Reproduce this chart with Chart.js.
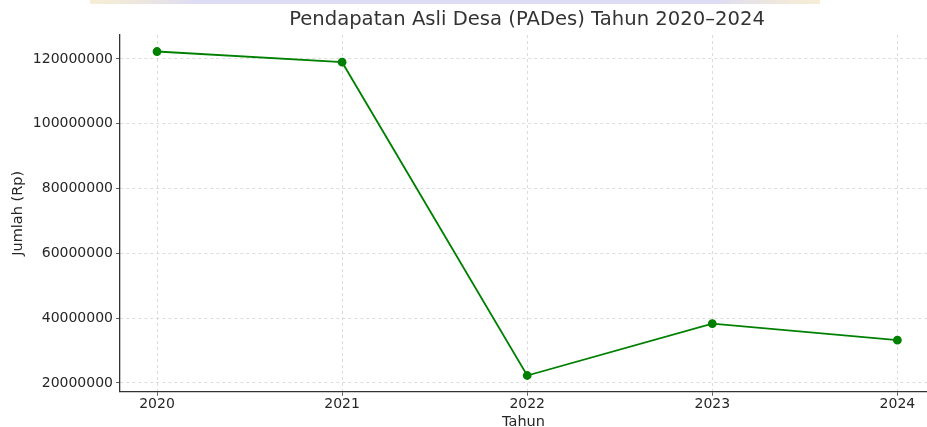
<!DOCTYPE html>
<html lang="id">
<head>
    <meta charset="UTF-8">
    <title>Pendapatan Asli Desa (PADes) Tahun 2020–2024</title>
    <style>
        html, body {
            margin: 0;
            padding: 0;
            background-color: #ffffff;
            overflow: hidden;
        }
        .chart-container {
            position: relative;
            width: 927px;
            height: 427px;
        }
    </style>
</head>
<body>
    <div class="chart-container">
        <canvas id="padesChart"></canvas>
    </div>

    <script src="https://cdn.jsdelivr.net/npm/chart.js"></script>
    <script>
        // Data
        const years = [2020, 2021, 2022, 2023, 2024];
        const pades = [122300000, 119000000, 22300000, 38300000, 33200000];
        const yTicks = [20000000, 40000000, 60000000, 80000000, 100000000, 120000000];

        const chartTitle = 'Pendapatan Asli Desa (PADes) Tahun 2020–2024';
        const textColor = '#262626';
        const font = 'DejaVu Sans';

        // Title and the faint banner at the very top
        const titlePlugin = {
            id: 'titlePlugin',
            beforeDraw(chart) {
                const ctx = chart.ctx;
                ctx.save();
                const grad = ctx.createLinearGradient(90, 0, 820, 0);
                grad.addColorStop(0, 'rgba(240,220,170,0.5)');
                grad.addColorStop(0.15, 'rgba(205,205,240,0.7)');
                grad.addColorStop(0.85, 'rgba(205,205,240,0.7)');
                grad.addColorStop(1, 'rgba(240,220,170,0.5)');
                ctx.fillStyle = grad;
                ctx.fillRect(90, 0, 730, 4);
                ctx.restore();
            },
            afterDraw(chart) {
                const ctx = chart.ctx;
                const area = chart.chartArea;
                ctx.save();
                ctx.fillStyle = '#333333';
                ctx.font = '19.6px "' + font + '"';
                ctx.textAlign = 'center';
                ctx.textBaseline = 'middle';
                ctx.fillText(chartTitle, (area.left + 934) / 2, 20);
                ctx.restore();
            }
        };

        const gridOpts = {
            color: '#d4d4d4',
            lineWidth: 0.8,
            tickLength: 4,
            tickColor: '#333333',
            tickBorderDash: []
        };
        const borderOpts = { display: true, color: '#333333', width: 1.3, dash: [3, 3] };

        const ctx = document.getElementById('padesChart').getContext('2d');
        const padesChart = new Chart(ctx, {
            type: 'line',
            data: {
                datasets: [{
                    label: 'PADes',
                    data: years.map((y, i) => ({ x: y, y: pades[i] })),
                    borderColor: '#008000',
                    backgroundColor: '#008000',
                    borderWidth: 1.8,
                    pointRadius: 3.5,
                    pointHoverRadius: 3.5,
                    tension: 0
                }]
            },
            options: {
                responsive: true,
                maintainAspectRatio: false,
                animation: false,
                devicePixelRatio: 1,
                layout: { autoPadding: false, padding: { top: 35, left: 0, right: 0, bottom: 0 } },
                plugins: {
                    legend: { display: false },
                    tooltip: { enabled: false }
                },
                scales: {
                    x: {
                        type: 'linear',
                        min: 2019.8,
                        max: 2024.16,
                        afterFit(scale) { scale.height = 35.3; },
                        afterBuildTicks(scale) { scale.ticks = years.map(v => ({ value: v })); },
                        ticks: {
                            color: textColor,
                            font: { family: font, size: 14 },
                            padding: 0,
                            maxRotation: 0,
                            callback: v => String(v)
                        },
                        grid: gridOpts,
                        border: borderOpts,
                        title: {
                            display: true,
                            text: 'Tahun',
                            color: textColor,
                            font: { family: font, size: 14.5 },
                            padding: { top: 0, bottom: -4 }
                        }
                    },
                    y: {
                        min: 17300000,
                        max: 127400000,
                        afterFit(scale) { scale.width = 120; },
                        afterBuildTicks(scale) { scale.ticks = yTicks.map(v => ({ value: v })); },
                        ticks: {
                            color: textColor,
                            font: { family: font, size: 14 },
                            padding: 3,
                            callback: v => String(v)
                        },
                        grid: gridOpts,
                        border: borderOpts,
                        title: {
                            display: true,
                            text: 'Jumlah (Rp)',
                            color: textColor,
                            font: { family: font, size: 14.5 },
                            padding: { top: 10, bottom: 4 }
                        }
                    }
                }
            },
            plugins: [titlePlugin]
        });
    </script>
</body>
</html>
